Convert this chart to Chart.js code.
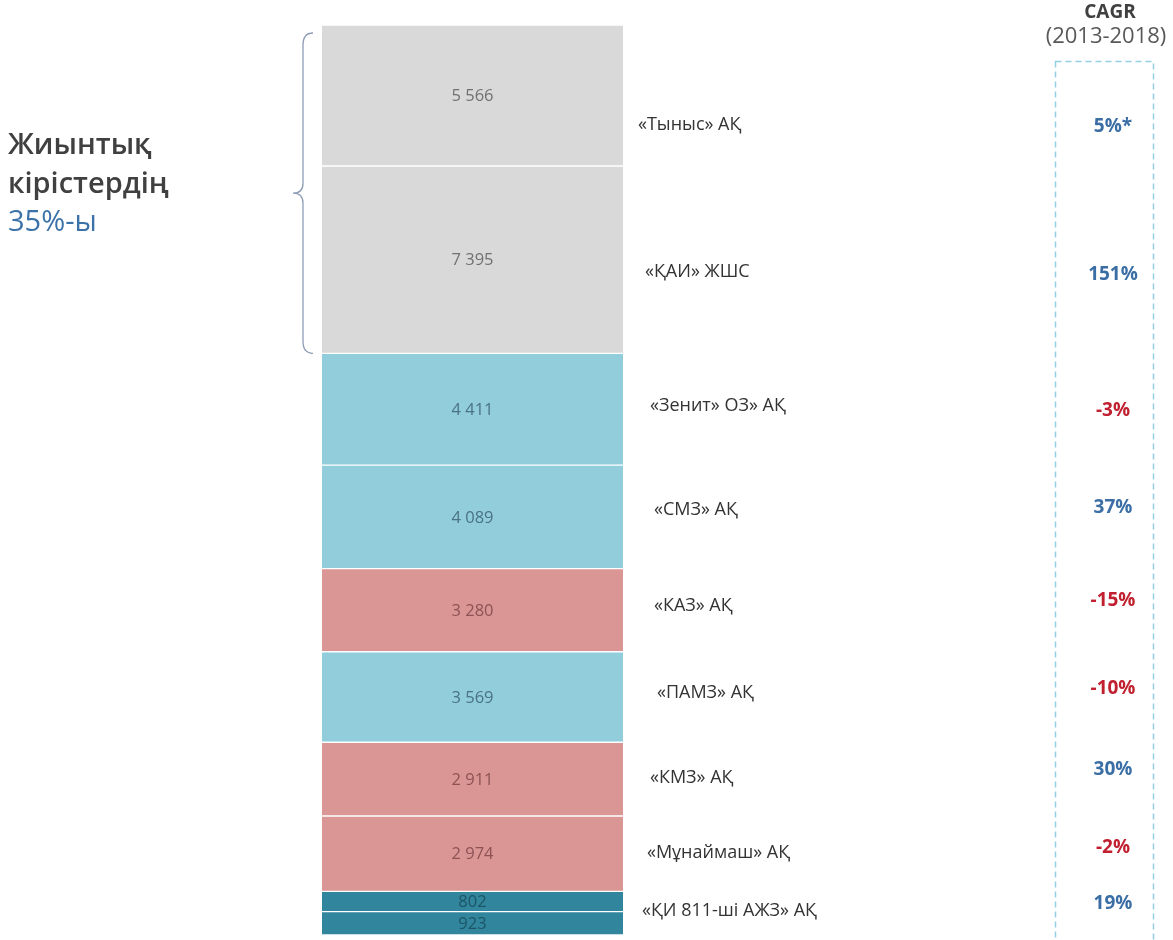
<!DOCTYPE html>
<html>
<head>
<meta charset="utf-8">
<script src="https://cdn.jsdelivr.net/npm/chart.js@4"></script>
<style>
html,body{margin:0;padding:0;background:#fff;}
#wrap{width:1173px;height:940px;position:relative;}
</style>
</head>
<body>
<div id="wrap"><canvas id="c" width="1173" height="940"></canvas></div>
<script>
// ---- DATA (segments listed top to bottom) ----
const segmentValues = [5566, 7395, 4411, 4089, 3280, 3569, 2911, 2974, 802, 923];
const segmentGroups = ['other', 'other', 'blue', 'blue', 'red', 'blue', 'red', 'red', 'teal', 'teal'];
const companyNames = ['«Тыныс» АҚ', '«ҚАИ» ЖШС', '«Зенит» ОЗ» АҚ', '«СМЗ» АҚ', '«КАЗ» АҚ', '«ПАМЗ» АҚ', '«КМЗ» АҚ', '«Мұнаймаш» АҚ', '«ҚИ 811-ші АЖЗ» АҚ'];
const companySegments = [[0], [1], [2], [3], [4], [5], [6], [7], [8, 9]];
const cagrLabels = ['5%*', '151%', '-3%', '37%', '-15%', '-10%', '30%', '-2%', '19%'];
const cagrTitle = 'CAGR';
const cagrPeriod = '(2013-2018)';
const sideNote = ['Жиынтық', 'кірістердің', '35%-ы'];

// ---- STYLE / LAYOUT ----
const fillColors = {other: '#d9d9d9', blue: '#92cddc', red: '#da9694', teal: '#31859c'};
const valueColors = {other: '#707070', blue: '#4a7383', red: '#8c5254', teal: '#1d5566'};
const companyDy = [29, 12, -3, -7, -4, -4, -1, -1, -2];
const companyDx = [-12, -5, 0, 4, 4, 7, 0, -3, -8];
const cagrDy = [31, 15, 1, -9, -10, -8, -9, -6, -10];
const FONT = '"Open Sans", "DejaVu Sans", sans-serif';

const total = segmentValues.reduce((a, b) => a + b, 0);
// Chart.js stacks from the bottom up: reverse to bottom-first
const order = segmentValues.map((v, i) => i).reverse();
const datasets = order.map(i => ({
  label: 'seg' + i,
  data: [segmentValues[i]],
  backgroundColor: fillColors[segmentGroups[i]],
  borderColor: '#ffffff',
  borderWidth: {top: 1, bottom: 1, left: 0, right: 0},
  borderSkipped: false,
  barPercentage: 1,
  categoryPercentage: 1,
  stack: 's'
}));

function segEl(chart, segIdx) {
  const dsIdx = order.indexOf(segIdx);
  return chart.getDatasetMeta(dsIdx).data[0];
}

const annotate = {
  id: 'annotate',
  afterDatasetsDraw(chart) {
    const ctx = chart.ctx;
    const area = chart.chartArea;
    ctx.save();
    // values inside segments
    ctx.textAlign = 'center';
    ctx.textBaseline = 'middle';
    ctx.font = '16.5px ' + FONT;
    segmentValues.forEach((v, i) => {
      const el = segEl(chart, i);
      const cy = (el.y + el.base) / 2;
      ctx.fillStyle = valueColors[segmentGroups[i]];
      ctx.fillText(v.toLocaleString('ru-RU').replace(/\s/g, ' '), el.x, cy + 1);
    });
    // company names and CAGR
    const nameX = area.right + 27;
    const cagrX = 1110;
    companyNames.forEach((name, k) => {
      const segs = companySegments[k];
      let top = Infinity, bot = -Infinity;
      segs.forEach(s => {
        const el = segEl(chart, s);
        top = Math.min(top, el.y, el.base);
        bot = Math.max(bot, el.y, el.base);
      });
      const cy = (top + bot) / 2;
      ctx.textAlign = 'left';
      ctx.font = '18px ' + FONT;
      ctx.fillStyle = '#333333';
      ctx.fillText(name, nameX + companyDx[k], cy + companyDy[k]);
      ctx.textAlign = 'center';
      ctx.font = 'bold 19px ' + FONT;
      ctx.fillStyle = cagrLabels[k].trim().startsWith('-') ? '#c0202f' : '#3a6ea5';
      ctx.fillText(cagrLabels[k], cagrX + 3, cy + cagrDy[k]);
    });
    // CAGR header
    ctx.textAlign = 'center';
    ctx.fillStyle = '#404040';
    ctx.font = 'bold 19px ' + FONT;
    ctx.fillText(cagrTitle, cagrX, 13);
    ctx.fillStyle = '#595959';
    ctx.font = '22px ' + FONT;
    ctx.fillText(cagrPeriod, 1106, 37);
    // dashed box
    ctx.setLineDash([6, 4]);
    ctx.strokeStyle = '#94cfe3';
    ctx.lineWidth = 1.5;
    ctx.strokeRect(1055.5, 61.5, 98, 900);
    ctx.setLineDash([]);
    // brace over the first two segments
    const t = segEl(chart, 0).y + 8;
    const b = segEl(chart, 1).base;
    const m = (t + b) / 2;
    const bx = area.left - 19;
    ctx.strokeStyle = '#8d9db5';
    ctx.lineWidth = 1.3;
    ctx.beginPath();
    ctx.moveTo(bx + 10, t);
    ctx.quadraticCurveTo(bx, t, bx, t + 12);
    ctx.lineTo(bx, m - 10);
    ctx.quadraticCurveTo(bx, m, bx - 10, m);
    ctx.quadraticCurveTo(bx, m, bx, m + 10);
    ctx.lineTo(bx, b - 12);
    ctx.quadraticCurveTo(bx, b, bx + 10, b);
    ctx.stroke();
    // side note
    ctx.textAlign = 'left';
    ctx.textBaseline = 'alphabetic';
    ctx.font = '600 29px ' + FONT;
    ctx.fillStyle = '#404040';
    ctx.fillText(sideNote[0], 8, 154);
    ctx.fillText(sideNote[1], 8, 193);
    ctx.font = '29px ' + FONT;
    ctx.fillStyle = '#3b73a8';
    ctx.fillText(sideNote[2], 8, 231);
    ctx.restore();
  }
};

new Chart(document.getElementById('c'), {
  type: 'bar',
  data: {labels: ['total'], datasets: datasets},
  options: {
    responsive: false,
    animation: false,
    events: [],
    layout: {padding: {left: 322, right: 550, top: 25, bottom: 5}},
    plugins: {legend: {display: false}, tooltip: {enabled: false}, title: {display: false}},
    scales: {
      x: {stacked: true, display: false},
      y: {stacked: true, display: false, min: 0, max: total}
    }
  },
  plugins: [annotate]
});
</script>
</body>
</html>
